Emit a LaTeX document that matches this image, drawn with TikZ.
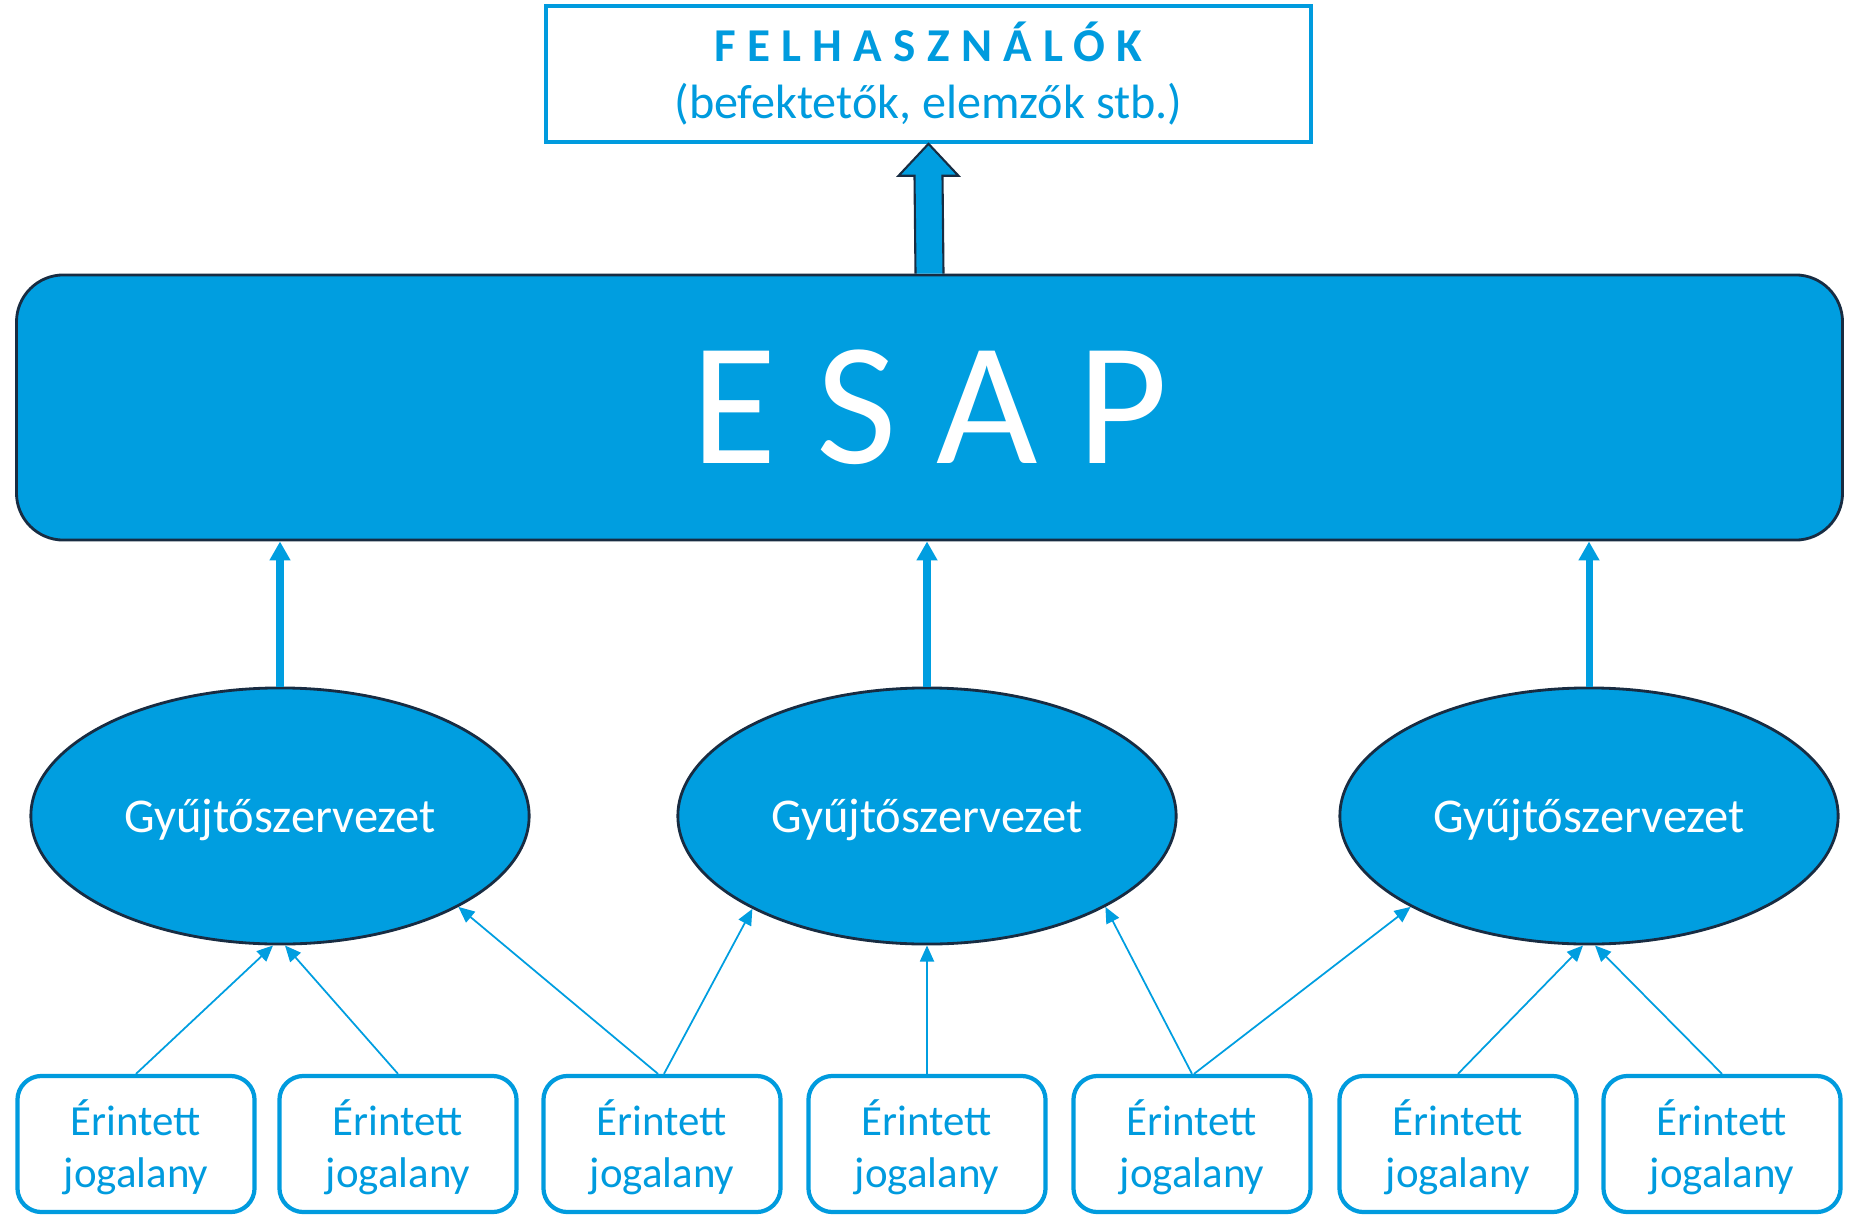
\documentclass[tikz,border=0pt]{standalone}
\usepackage{fontspec}
\setmainfont{Carlito}
\usetikzlibrary{shapes.geometric,arrows.meta,calc}

\definecolor{esapblue}{RGB}{0,158,224}
\definecolor{esapline}{RGB}{24,44,66}
\definecolor{textblue}{RGB}{0,155,222}

\tikzset{
  userbox/.style={draw=textblue,line width=1pt,minimum width=7.65cm,minimum height=1.36cm,inner sep=0pt,align=center,text=textblue,font=\fontsize{13.7}{16.2}\selectfont},
  esapbox/.style={draw=esapline,fill=esapblue,line width=0.8pt,rounded corners=0.47cm,minimum width=18.25cm,minimum height=2.65cm,inner sep=0pt,text=white,font=\fontsize{49.8}{58}\selectfont},
  orgnode/.style={ellipse,draw=esapline,fill=esapblue,line width=0.8pt,minimum width=4.98cm,minimum height=2.56cm,inner sep=0pt,text depth=0pt,text=white,font=\fontsize{13.8}{16}\selectfont},
  entitybox/.style={draw=textblue,line width=1.2pt,rounded corners=0.24cm,minimum width=2.37cm,minimum height=1.36cm,inner sep=0pt,align=center,text depth=0pt,text=textblue,font=\fontsize{12.2}{14.8}\selectfont},
  feed/.style={draw=esapblue,line width=0.5pt,-{Triangle[width=1.4mm,length=1.6mm]}},
  upload/.style={draw=esapblue,line width=2pt,-{Triangle[width=2mm,length=1.9mm]}}
}

\begin{document}
\begin{tikzpicture}[x=0.01cm,y=-0.01cm]
\useasboundingbox (0,0) rectangle (1860,1215);

\node (users) at (928.5,74)[userbox]{{\fontsize{13.4}{16.2}\selectfont\bfseries\addfontfeature{LetterSpace=24}FELHASZNÁLÓK}\\(befektetők, elemzők stb.)};
\node (esap) at (929.5,407.5)[esapbox]{E S A P};

\node (org1) at (280,816)[orgnode]{Gyűjtőszervezet};
\node (org2) at (927,816)[orgnode]{Gyűjtőszervezet};
\node (org3) at (1589,816)[orgnode]{Gyűjtőszervezet};

\foreach \x [count=\i] in {136,398,662,927,1192,1458,1722}
  \node (ent\i) at (\x,1144)[entitybox]{Érintett\\jogalany};

% ESAP -> felhasznalok
\draw[esapline,fill=esapblue,line width=0.6pt] ($(esap.north)+(-14,0)$) -- ($(users.south)+(-14,32)$) -- ($(users.south)+(-30,32)$) -- (users.south) -- ($(users.south)+(30,32)$) -- ($(users.south)+(14,32)$) -- ($(esap.north)+(14,0)$);

% gyujtoszervezetek -> ESAP
\draw[upload] (org1.north) -- (org1.north |- esap.south);
\draw[upload] (org2.north) -- (org2.north |- esap.south);
\draw[upload] (org3.north) -- (org3.north |- esap.south);

% jogalanyok -> gyujtoszervezetek
\draw[feed] (ent1.north) -- ([xshift=-0.07cm]org1.south);
\draw[feed] (ent2.north) -- ([xshift=0.05cm]org1.south);
\draw[feed] ([xshift=-0.04cm]ent3.north) -- (org1.333);
\draw[feed] ([xshift=0.02cm]ent3.north) -- (org2.208);
\draw[feed] (ent4.north) -- (org2.south);
\draw[feed] (ent5.north) -- (org2.333);
\draw[feed] ([xshift=0.02cm]ent5.north) -- (org3.207);
\draw[feed] (ent6.north) -- ([xshift=-0.06cm]org3.south);
\draw[feed] (ent7.north) -- ([xshift=0.06cm]org3.south);
\end{tikzpicture}
\end{document}
